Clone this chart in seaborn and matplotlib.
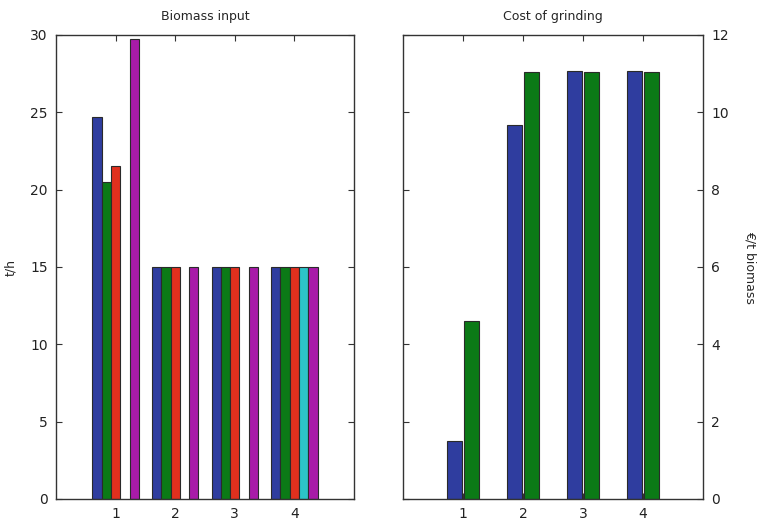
import numpy as np
import pandas as pd
import matplotlib
matplotlib.use("Agg")
import matplotlib.pyplot as plt
import seaborn as sns

cases = [1, 2, 3, 4]
biomass_series = ["s1", "s2", "s3", "s4", "s5"]
biomass_s1 = [24.7, 15.0, 15.0, 15.0]
biomass_s2 = [20.5, 15.0, 15.0, 15.0]
biomass_s3 = [21.5, 15.0, 15.0, 15.0]
biomass_s4 = [np.nan, np.nan, np.nan, 15.0]
biomass_s5 = [29.75, 15.0, 15.0, 15.0]

cost_series = ["c1", "c2"]
cost_c1 = [1.5, 9.67, 11.08, 11.08]
cost_c2 = [4.6, 11.05, 11.05, 11.05]

colors5 = ["#2f3d9f", "#0b7a16", "#e0301e", "#2cc3c8", "#a81ba8"]
colors2 = ["#2f3d9f", "#0b7a16"]

sns.set_style("white")
plt.rcParams['font.family'] = ['DejaVu Sans']

bio_vals = [biomass_s1, biomass_s2, biomass_s3, biomass_s4, biomass_s5]
df_bio = pd.DataFrame({
    "case": np.repeat([cases], 5, axis=0).ravel(),
    "series": np.repeat(biomass_series, 4),
    "value": np.concatenate(bio_vals),
})
df_cost = pd.DataFrame({
    "case": cases * 2,
    "series": np.repeat(cost_series, 4),
    "value": cost_c1 + cost_c2,
})

fig = plt.figure(figsize=(7.6, 5.24), dpi=100)
ax1 = fig.add_axes([56/760, 1 - 499/524, 298/760, 464/524])
ax2 = fig.add_axes([403/760, 1 - 499/524, 300/760, 464/524])

sns.barplot(data=df_bio, x="case", y="value", hue="series", hue_order=biomass_series,
            palette=colors5, native_scale=True, width=0.78, gap=0.0,
            edgecolor="#2a2a2a", linewidth=0.8, saturation=1, errorbar=None,
            legend=False, ax=ax1)
sns.barplot(data=df_cost, x="case", y="value", hue="series", hue_order=cost_series,
            palette=colors2, native_scale=True, width=0.56, gap=0.08,
            edgecolor="#2a2a2a", linewidth=0.8, saturation=1, errorbar=None,
            legend=False, ax=ax2)

for ax in (ax1, ax2):
    ax.set_xlim(0, 5)
    ax.set_xticks(cases)
    ax.set_xticklabels([str(c) for c in cases])
    ax.set_xlabel("")
    for s in ax.spines.values():
        s.set_visible(True)
        s.set_color("#333333")
        s.set_linewidth(1.0)
    ax.tick_params(direction="in", length=4, width=0.8, color="#333333",
                   top=True, right=True, left=True, bottom=True,
                   labelsize=10, labelcolor="#222222", pad=6)

ax1.set_ylim(0, 30)
ax1.set_yticks([0, 5, 10, 15, 20, 25, 30])
ax1.set_ylabel("t/h", fontsize=9, labelpad=9)
ax1.set_title("Biomass input", fontsize=9, pad=11)

ax2.set_ylim(0, 12)
ax2.set_yticks([0, 2, 4, 6, 8, 10, 12])
ax2.yaxis.set_label_position("right")
ax2.tick_params(labelleft=False, labelright=True)
ax2.set_ylabel("€/t biomass", fontsize=9, rotation=270, labelpad=20)
ax2.set_title("Cost of grinding", fontsize=9, pad=11)

fig.savefig("out.png", dpi=100)
